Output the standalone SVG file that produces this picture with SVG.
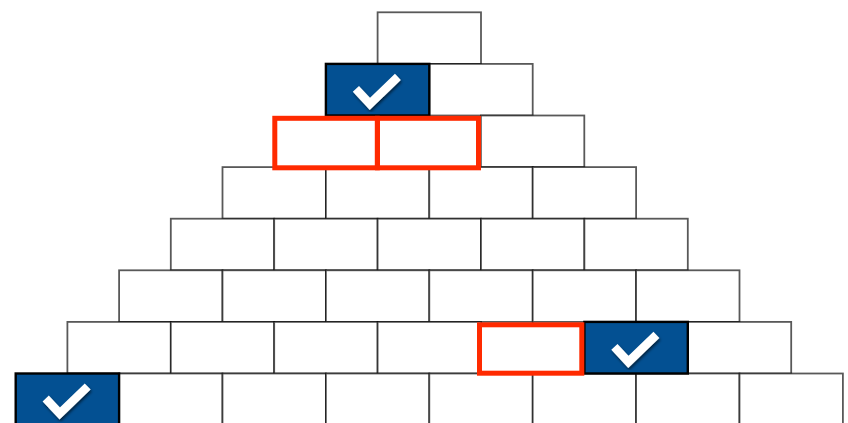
<svg xmlns="http://www.w3.org/2000/svg" width="848" height="423" viewBox="0 0 848 423">
<style>
.b{fill:#fff;stroke:#000;stroke-opacity:0.65;stroke-width:1.8}
.blue{fill:#035092;stroke:#000;stroke-width:2.4}
.red{fill:none;stroke:#ff2a00;stroke-width:5}
.chk{fill:none;stroke:#fff;stroke-width:8.5;stroke-linejoin:miter;stroke-linecap:butt;filter:url(#sh)}
</style>
<defs>
<filter id="sh" x="-30%" y="-30%" width="160%" height="160%">
<feDropShadow dx="1" dy="2" stdDeviation="1.6" flood-color="#000" flood-opacity="0.6"/>
</filter>
<path id="ck" d="M30 25 L44 40 L72 13"/>
</defs>
<rect width="848" height="423" fill="#fff"/>
<g id="row0"><rect id="b0-0" class="b" x="377.6" y="12.3" width="103.4" height="51.6"/></g>
<g id="row1">
<rect id="b1-1" class="b" x="429.3" y="63.9" width="103.4" height="51.6"/>
</g>
<g id="row2">
<rect id="b2-2" class="b" x="480.9" y="115.5" width="103.4" height="51.6"/>
</g>
<g id="row3">
<rect id="b3-0" class="b" x="222.5" y="167.1" width="103.4" height="51.6"/>
<rect id="b3-1" class="b" x="325.9" y="167.1" width="103.4" height="51.6"/>
<rect id="b3-2" class="b" x="429.3" y="167.1" width="103.4" height="51.6"/>
<rect id="b3-3" class="b" x="532.7" y="167.1" width="103.4" height="51.6"/>
</g>
<g id="row4">
<rect id="b4-0" class="b" x="170.8" y="218.7" width="103.4" height="51.6"/>
<rect id="b4-1" class="b" x="274.2" y="218.7" width="103.4" height="51.6"/>
<rect id="b4-2" class="b" x="377.6" y="218.7" width="103.4" height="51.6"/>
<rect id="b4-3" class="b" x="481.0" y="218.7" width="103.4" height="51.6"/>
<rect id="b4-4" class="b" x="584.4" y="218.7" width="103.4" height="51.6"/>
</g>
<g id="row5">
<rect id="b5-0" class="b" x="119.1" y="270.3" width="103.4" height="51.6"/>
<rect id="b5-1" class="b" x="222.5" y="270.3" width="103.4" height="51.6"/>
<rect id="b5-2" class="b" x="325.9" y="270.3" width="103.4" height="51.6"/>
<rect id="b5-3" class="b" x="429.3" y="270.3" width="103.4" height="51.6"/>
<rect id="b5-4" class="b" x="532.7" y="270.3" width="103.4" height="51.6"/>
<rect id="b5-5" class="b" x="636.1" y="270.3" width="103.4" height="51.6"/>
</g>
<g id="row6">
<rect id="b6-0" class="b" x="67.4" y="321.9" width="103.4" height="51.6"/>
<rect id="b6-1" class="b" x="170.8" y="321.9" width="103.4" height="51.6"/>
<rect id="b6-2" class="b" x="274.2" y="321.9" width="103.4" height="51.6"/>
<rect id="b6-3" class="b" x="377.6" y="321.9" width="103.4" height="51.6"/>
<rect id="b6-6" class="b" x="687.8" y="321.9" width="103.4" height="51.6"/>
</g>
<g id="row7">
<rect id="b7-1" class="b" x="119.1" y="373.5" width="103.4" height="51.6"/>
<rect id="b7-2" class="b" x="222.5" y="373.5" width="103.4" height="51.6"/>
<rect id="b7-3" class="b" x="325.9" y="373.5" width="103.4" height="51.6"/>
<rect id="b7-4" class="b" x="429.3" y="373.5" width="103.4" height="51.6"/>
<rect id="b7-5" class="b" x="532.7" y="373.5" width="103.4" height="51.6"/>
<rect id="b7-6" class="b" x="636.1" y="373.5" width="103.4" height="51.6"/>
<rect id="b7-7" class="b" x="739.5" y="373.5" width="103.4" height="51.6"/>
</g>
<g id="checked-1-0">
<rect class="blue" x="325.9" y="63.9" width="103.4" height="51.6"/>
<use href="#ck" class="chk" transform="translate(325.9,63.9)"/>
</g>
<g id="checked-6-5">
<rect class="blue" x="584.4" y="321.9" width="103.4" height="51.6"/>
<use href="#ck" class="chk" transform="translate(584.4,321.9)"/>
</g>
<g id="checked-7-0">
<rect class="blue" x="15.7" y="373.5" width="103.4" height="51.6"/>
<use href="#ck" class="chk" transform="translate(15.7,373.5)"/>
</g>
<g id="red-2-0"><rect class="red" x="274.8" y="118.3" width="102.5" height="49.5"/></g>
<g id="red-2-1"><rect class="red" x="377.5" y="118.3" width="101" height="49.5"/></g>
<g id="red-6-4"><rect class="red" x="479.5" y="324.8" width="102.3" height="48.4"/></g>
<g id="connectors"/>
</svg>
